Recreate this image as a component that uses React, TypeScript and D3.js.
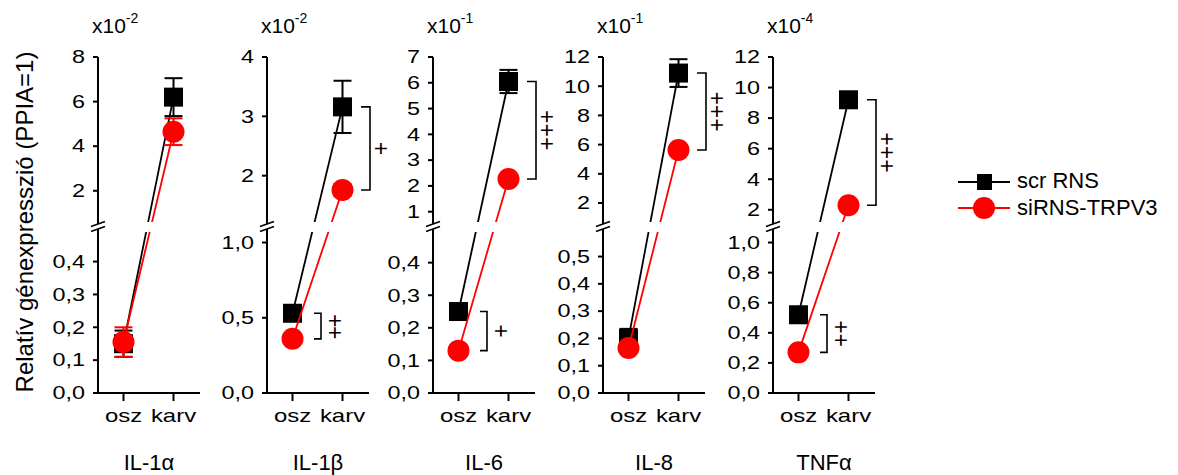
import React from "react";
import * as d3 from "d3";

const genes = ["IL-1α", "IL-1β", "IL-6", "IL-8", "TNFα"];
const exponents = ["-2", "-2", "-1", "-1", "-4"];
const categories = ["osz", "karv"];
const upperTicks = [
  [2, 4, 6, 8],
  [2, 3, 4],
  [1, 2, 3, 4, 5, 6, 7],
  [2, 4, 6, 8, 10, 12],
  [2, 4, 6, 8, 10, 12],
];
const lowerTicks = [
  [0, 0.1, 0.2, 0.3, 0.4],
  [0, 0.5, 1.0],
  [0, 0.1, 0.2, 0.3, 0.4],
  [0, 0.1, 0.2, 0.3, 0.4, 0.5],
  [0, 0.2, 0.4, 0.6, 0.8, 1.0],
];
const upperDomains = [
  [0.6, 8],
  [1.22, 4],
  [0.6, 7],
  [0.7, 12],
  [1.2, 12],
];
const lowerDomains = [
  [0, 0.49],
  [0, 1.07],
  [0, 0.494],
  [0, 0.59],
  [0, 1.07],
];
const scrMeans = [
  [0.15, 6.2],
  [0.53, 3.16],
  [0.25, 6.05],
  [0.2, 10.9],
  [0.52, 9.2],
];
const scrErrors = [
  [0.04, 0.85],
  [0.03, 0.44],
  [0.02, 0.45],
  [0.035, 0.95],
  [0.03, 0.4],
];
const siMeans = [
  [0.155, 4.65],
  [0.36, 1.76],
  [0.13, 2.27],
  [0.165, 5.63],
  [0.27, 2.3],
];
const siErrors = [
  [0.045, 0.6],
  [0.02, 0.1],
  [0.01, 0.1],
  [0.01, 0.3],
  [0.02, 0.2],
];
const sigKarv = ["", "+", "+++", "+++", "+++"];
const sigOsz = ["", "++", "+", "", "++"];
const legendLabels = ["scr RNS", "siRNS-TRPV3"];

const FONT = "'Liberation Sans', Arial, sans-serif";
const axisX = [98, 267, 433, 603, 773];
const UP_TOP = 57;
const UP_BOT = 222;
const LO_TOP = 232;
const LO_BOT = 393;
const AXIS_W = 102;

function Panel({ i }: { i: number }) {
  const ax = axisX[i];
  const x = d3.scalePoint<string>().domain(categories).range([ax + 25.5, ax + 75.5]);
  const yU = d3.scaleLinear().domain(upperDomains[i]).range([UP_BOT, UP_TOP]);
  const yL = d3.scaleLinear().domain(lowerDomains[i]).range([LO_BOT, LO_TOP]);
  const y = (v: number) => (v <= lowerDomains[i][1] ? yL(v) : yU(v));
  const lowerFmt = d3.format(".1f");

  const series = [
    { means: scrMeans[i], errs: scrErrors[i], color: "#000", shape: "square" },
    { means: siMeans[i], errs: siErrors[i], color: "#ff0000", shape: "circle" },
  ];

  const line = d3
    .line<number>()
    .x((_, k) => x(categories[k]) as number)
    .y((d) => y(d));

  const tickLabel = (ty: number, label: string, key: string) => (
    <g key={key} transform={`translate(${ax - 13},${ty}) scale(1.3,1)`}>
      <text textAnchor="end" dy="0.35em" fontSize={18} fontFamily={FONT}>
        {label}
      </text>
    </g>
  );

  const bracket = (k: number, sig: string, bx: number, tl: number, px: number) => {
    if (!sig) return null;
    const y1 = y(scrMeans[i][k]);
    const y2 = y(siMeans[i][k]);
    const mid = (y1 + y2) / 2;
    const n = sig.length;
    const fs = 23;
    const ls = n === 2 && k === 0 && i === 1 ? -1.5 : 0;
    return (
      <g key={"br" + k}>
        <path
          d={`M${bx - tl},${y1}H${bx}V${y2}H${bx - tl}`}
          fill="none"
          stroke="#000"
          strokeWidth={1.6}
        />
        <text
          x={bx + px}
          y={mid}
          fontSize={fs}
          fontFamily={FONT}
          textAnchor="middle"
          style={{ writingMode: "vertical-rl", letterSpacing: ls }}
        >
          {sig}
        </text>
      </g>
    );
  };

  return (
    <g>
      {/* y axis */}
      <line x1={ax} x2={ax} y1={UP_TOP} y2={224} stroke="#000" strokeWidth={2} />
      <line x1={ax} x2={ax} y1={229} y2={LO_BOT} stroke="#000" strokeWidth={2} />
      <line x1={ax - 7} x2={ax + 7} y1={226.5} y2={221.5} stroke="#000" strokeWidth={1.6} />
      <line x1={ax - 7} x2={ax + 7} y1={231.5} y2={226.5} stroke="#000" strokeWidth={1.6} />
      {upperTicks[i].map((t) => (
        <line key={"ut" + t} x1={ax - 5} x2={ax} y1={yU(t)} y2={yU(t)} stroke="#000" strokeWidth={2} />
      ))}
      {upperTicks[i].map((t) => tickLabel(yU(t), String(t), "ul" + t))}
      {lowerTicks[i].map((t) => (
        <line key={"lt" + t} x1={ax - 5} x2={ax} y1={yL(t)} y2={yL(t)} stroke="#000" strokeWidth={2} />
      ))}
      {lowerTicks[i].map((t) => tickLabel(yL(t), lowerFmt(t).replace(".", ","), "ll" + t))}
      {/* x axis */}
      <line x1={ax - 1} x2={ax + AXIS_W} y1={LO_BOT} y2={LO_BOT} stroke="#000" strokeWidth={2} />
      {categories.map((c) => (
        <g key={c}>
          <line x1={x(c)} x2={x(c)} y1={LO_BOT} y2={LO_BOT + 8} stroke="#000" strokeWidth={2} />
          <g transform={`translate(${x(c)},422) scale(1.33,1)`}>
            <text textAnchor="middle" fontSize={18} fontFamily={FONT}>
              {c}
            </text>
          </g>
        </g>
      ))}
      <text x={ax + AXIS_W / 2} y={470} textAnchor="middle" fontSize={22} fontFamily={FONT}>
        {genes[i]}
      </text>
      <text x={ax - 6} y={33} fontSize={21} fontFamily={FONT}>
        x10
        <tspan fontSize={14} dy={-10}>
          {exponents[i]}
        </tspan>
      </text>
      {/* series */}
      {series.map((s, si) => (
        <g key={si}>
          <path
            d={line(s.means) as string}
            fill="none"
            stroke={s.color}
            strokeWidth={1.8}
            clipPath="url(#breakClip)"
          />
          {s.means.map((m, k) => {
            const cx = x(categories[k]) as number;
            const yt = y(m + s.errs[k]);
            const yb = y(m - s.errs[k]);
            return (
              <g key={"e" + k}>
                <line x1={cx} x2={cx} y1={yt} y2={yb} stroke={s.color} strokeWidth={2} />
                <line x1={cx - 9} x2={cx + 9} y1={yt} y2={yt} stroke={s.color} strokeWidth={2} />
                <line x1={cx - 9} x2={cx + 9} y1={yb} y2={yb} stroke={s.color} strokeWidth={2} />
              </g>
            );
          })}
          {s.means.map((m, k) => {
            const cx = x(categories[k]) as number;
            const cy = y(m);
            return s.shape === "square" ? (
              <rect key={"m" + k} x={cx - 9.5} y={cy - 9.5} width={19} height={19} fill={s.color} />
            ) : (
              <circle key={"m" + k} cx={cx} cy={cy} r={11} fill={s.color} />
            );
          })}
        </g>
      ))}
      {bracket(1, sigKarv[i], ax + 103, 9, 11)}
      {bracket(0, sigOsz[i], ax + 54, 7, 14)}
    </g>
  );
}

export default function App() {
  return (
    <svg
      width={1178}
      height={475}
      style={{ position: "absolute", left: 0, top: 0, background: "#fff" }}
    >
      <defs>
        <clipPath id="breakClip">
          <rect x={0} y={0} width={1178} height={UP_BOT} />
          <rect x={0} y={LO_TOP} width={1178} height={475 - LO_TOP} />
        </clipPath>
      </defs>
      <rect width={1178} height={475} fill="#fff" />
      <text
        transform="translate(33,222) rotate(-90)"
        textAnchor="middle"
        fontSize={24}
        fontFamily={FONT}
      >
        Relatív génexpresszió (PPIA=1)
      </text>
      {genes.map((_, i) => (
        <Panel key={i} i={i} />
      ))}
      {/* legend */}
      <g>
        <line x1={958} x2={1010} y1={182} y2={182} stroke="#000" strokeWidth={2} />
        <rect x={977} y={174} width={15} height={16} fill="#000" />
        <text x={1017} y={188} fontSize={22} fontFamily={FONT}>
          {legendLabels[0]}
        </text>
        <line x1={958} x2={1010} y1={208} y2={208} stroke="#ff0000" strokeWidth={2} />
        <circle cx={984} cy={208} r={11} fill="#ff0000" />
        <text x={1017} y={215} fontSize={22} fontFamily={FONT}>
          {legendLabels[1]}
        </text>
      </g>
    </svg>
  );
}
